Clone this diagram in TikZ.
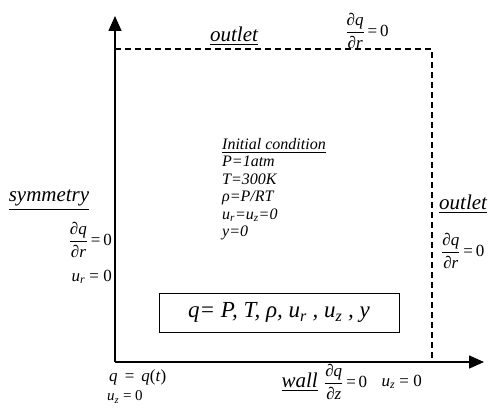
\documentclass[tikz,border=0pt]{standalone}
\usepackage{amsmath}
\usepackage{fontspec}
\setmainfont{Liberation Serif}
\usetikzlibrary{arrows.meta,positioning,calc}

\newcommand{\vsub}[2]{\textit{#1}\textsubscript{\textit{#2}}}
\newcommand{\dpart}[2]{$\dfrac{\textit{∂#1}}{\textit{∂#2}}$\,=\,0}

\tikzset{
  axis/.style={line width=1.5pt, -{Triangle[length=15pt,width=13pt]}},
  bnd/.style={line width=1.5pt, dash pattern=on 6pt off 4pt},
  lbl/.style={inner sep=0pt, font=\fontsize{21}{24}\selectfont\itshape},
  eqn/.style={inner sep=0pt, font=\fontsize{17}{20}\selectfont},
  cond/.style={inner sep=0pt, align=left, font=\fontsize{16}{17.5}\selectfont\itshape}
}

\begin{document}
\begin{tikzpicture}[x=1pt,y=-1pt]
  \useasboundingbox (0,0) rectangle (492,412);
  % domain corners
  \coordinate (o) at (115,362);
  \coordinate (rtip) at (115,16);
  \coordinate (ztip) at (484,362);
  \coordinate (tl) at (115,49);
  \coordinate (tr) at (432,49);
  \coordinate (br) at (432,362);
  \draw[bnd] (tl) -- (tr) -- (br);
  \draw[axis] (o) -- (rtip);
  \draw[axis] (o) -- (ztip);

  % top boundary
  \node[lbl] (outtop) at (234,36) {\underline{outlet}};
  \node[eqn] (dqtop) at (367,31) {\dpart{q}{r}};

  % initial condition
  \node[cond, anchor=north west] (init) at (222,138) {\underline{Initial condition}\\
    P=1atm\\ T=300K\\ ρ=P/RT\\ u\textsubscript{r}=u\textsubscript{z}=0\\ y=0};

  % symmetry axis
  \node[lbl] (sym) at (49,200) {\underline{symmetry}};
  \node[eqn, anchor=east] (dqsym) at (112,240) {\dpart{q}{r}};
  \node[eqn, anchor=east] (ursym) at (112,277) {\vsub{u}{r} = 0};

  % right outlet
  \node[lbl, anchor=west] (outright) at (439,204) {\underline{outlet}};
  \node[eqn, anchor=west] (dqright) at (441,251) {\dpart{q}{r}};

  % variables
  \node[draw, line width=1pt, minimum width=240pt, minimum height=39pt,
        font=\fontsize{23}{26}\selectfont\itshape] (qbox) at (279,312.5)
        {q= P, T, ρ, u\textsubscript{r} , u\textsubscript{z} , y};

  % inlet and wall
  \node[eqn, anchor=west] (qin) at (109,377) {\textit{q}\, = \,\textit{q}(\textit{t})};
  \node[eqn, anchor=west, font=\fontsize{15}{18}\selectfont] (uzin) at (107,397) {\vsub{u}{z} = 0};
  \node[eqn, anchor=east] (uzwall) at (422,382) {\vsub{u}{z} = 0};
  \node[eqn, left=14pt of uzwall] (dqwall) {\dpart{q}{z}};
  \node[lbl, left=6pt of dqwall] (wall) {\underline{wall}};
\end{tikzpicture}
\end{document}
